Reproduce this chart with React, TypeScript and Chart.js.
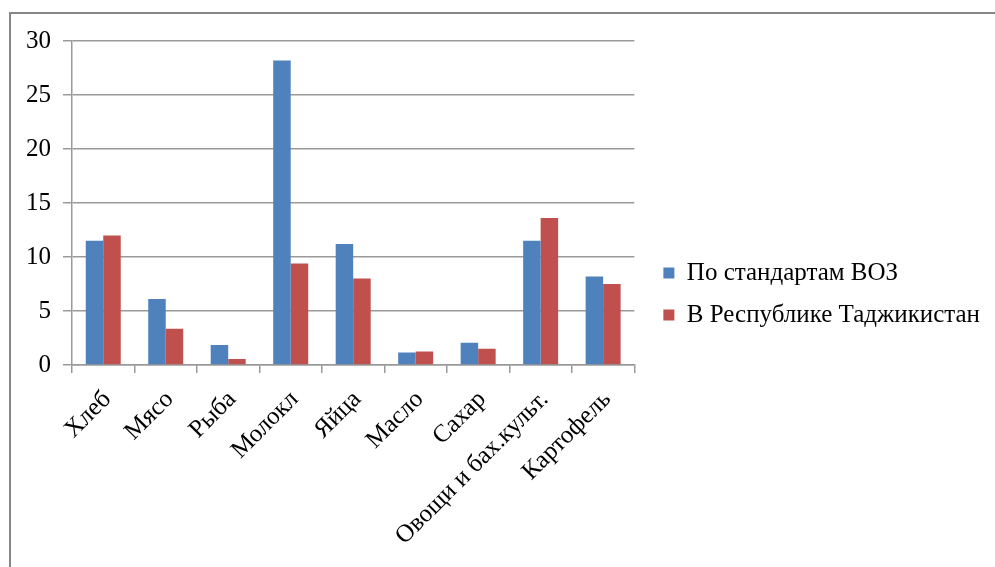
import React, { useEffect, useRef } from "react";
import { Chart, registerables } from "chart.js";

Chart.register(...registerables);

// Food categories along the x axis
const categories = [
  "Хлеб",
  "Мясо",
  "Рыба",
  "Молокл",
  "Яйца",
  "Масло",
  "Сахар",
  "Овощи и бах.культ.",
  "Картофель",
];

// Series names
const seriesWho = "По стандартам ВОЗ";
const seriesTj = "В Республике Таджикистан";

// Values per category
const whoValues = [11.5, 6.1, 1.85, 28.2, 11.2, 1.15, 2.05, 11.5, 8.2];
const tjValues = [12.0, 3.35, 0.55, 9.4, 8.0, 1.25, 1.5, 13.6, 7.5];

// Value axis range
const yMin = 0;
const yMax = 30;
const yStep = 5;

const FONT_FAMILY = "Liberation Serif, Times New Roman, serif";
const FONT_SIZE = 25;
const GRID_COLOR = "#9a9a9a";

Chart.defaults.font.family = FONT_FAMILY;
Chart.defaults.font.size = FONT_SIZE;
Chart.defaults.color = "#000";

export default function App() {
  const canvasRef = useRef<HTMLCanvasElement | null>(null);

  useEffect(() => {
    const canvas = canvasRef.current;
    if (!canvas) return;

    const chart = new Chart(canvas, {
      type: "bar",
      data: {
        labels: categories,
        datasets: [
          {
            label: seriesWho,
            data: whoValues,
            backgroundColor: "#4F81BD",
            borderWidth: 0,
            categoryPercentage: 0.56,
            barPercentage: 1.0,
          },
          {
            label: seriesTj,
            data: tjValues,
            backgroundColor: "#C0504D",
            borderWidth: 0,
            categoryPercentage: 0.56,
            barPercentage: 1.0,
          },
        ],
      },
      options: {
        animation: false,
        responsive: false,
        maintainAspectRatio: false,
        devicePixelRatio: 1,
        layout: { padding: { top: 41, left: 0, right: 5, bottom: 20 } },
        plugins: {
          tooltip: { enabled: false },
          legend: {
            position: "right",
            align: "center",
            maxWidth: 500,
            labels: {
              boxWidth: 11,
              boxHeight: 11,
              padding: 17,
              color: "#000",
              font: { family: FONT_FAMILY, size: FONT_SIZE },
            },
          },
        },
        scales: {
          x: {
            grid: {
              drawOnChartArea: false,
              drawTicks: true,
              tickLength: 8,
              color: GRID_COLOR,
              lineWidth: 1.5,
            },
            border: { color: GRID_COLOR, width: 1.5 },
            ticks: {
              minRotation: 45,
              maxRotation: 45,
              color: "#000",
              font: { family: FONT_FAMILY, size: FONT_SIZE },
              padding: 12,
              labelOffset: 4,
            },
            afterFit: (scale: any) => {
              scale.height = 182;
            },
          },
          y: {
            position: "left",
            min: yMin,
            max: yMax,
            ticks: {
              stepSize: yStep,
              color: "#000",
              padding: 12,
              font: { family: FONT_FAMILY, size: FONT_SIZE },
            },
            grid: {
              color: GRID_COLOR,
              lineWidth: 1.5,
              tickLength: 9,
            },
            border: { color: GRID_COLOR, width: 1.5 },
            afterFit: (scale: any) => {
              scale.width = 72;
            },
          },
          gap: {
            type: "linear",
            position: "right",
            display: true,
            grid: { display: false },
            ticks: { display: false },
            border: { display: false },
            afterFit: (scale: any) => {
              scale.width = 12;
            },
          },
        },
      },
    });

    return () => chart.destroy();
  }, []);

  return (
    <div
      style={{
        position: "absolute",
        left: 0,
        top: 0,
        width: 995,
        height: 567,
        background: "#fff",
        overflow: "hidden",
      }}
    >
      <div
        style={{
          position: "absolute",
          left: 9,
          top: 12,
          width: 1000,
          height: 600,
          borderLeft: "2px solid #868686",
          borderTop: "2px solid #868686",
        }}
      />
      <canvas
        ref={canvasRef}
        width={995}
        height={567}
        style={{ position: "absolute", left: 0, top: 0, width: 995, height: 567 }}
      />
    </div>
  );
}
